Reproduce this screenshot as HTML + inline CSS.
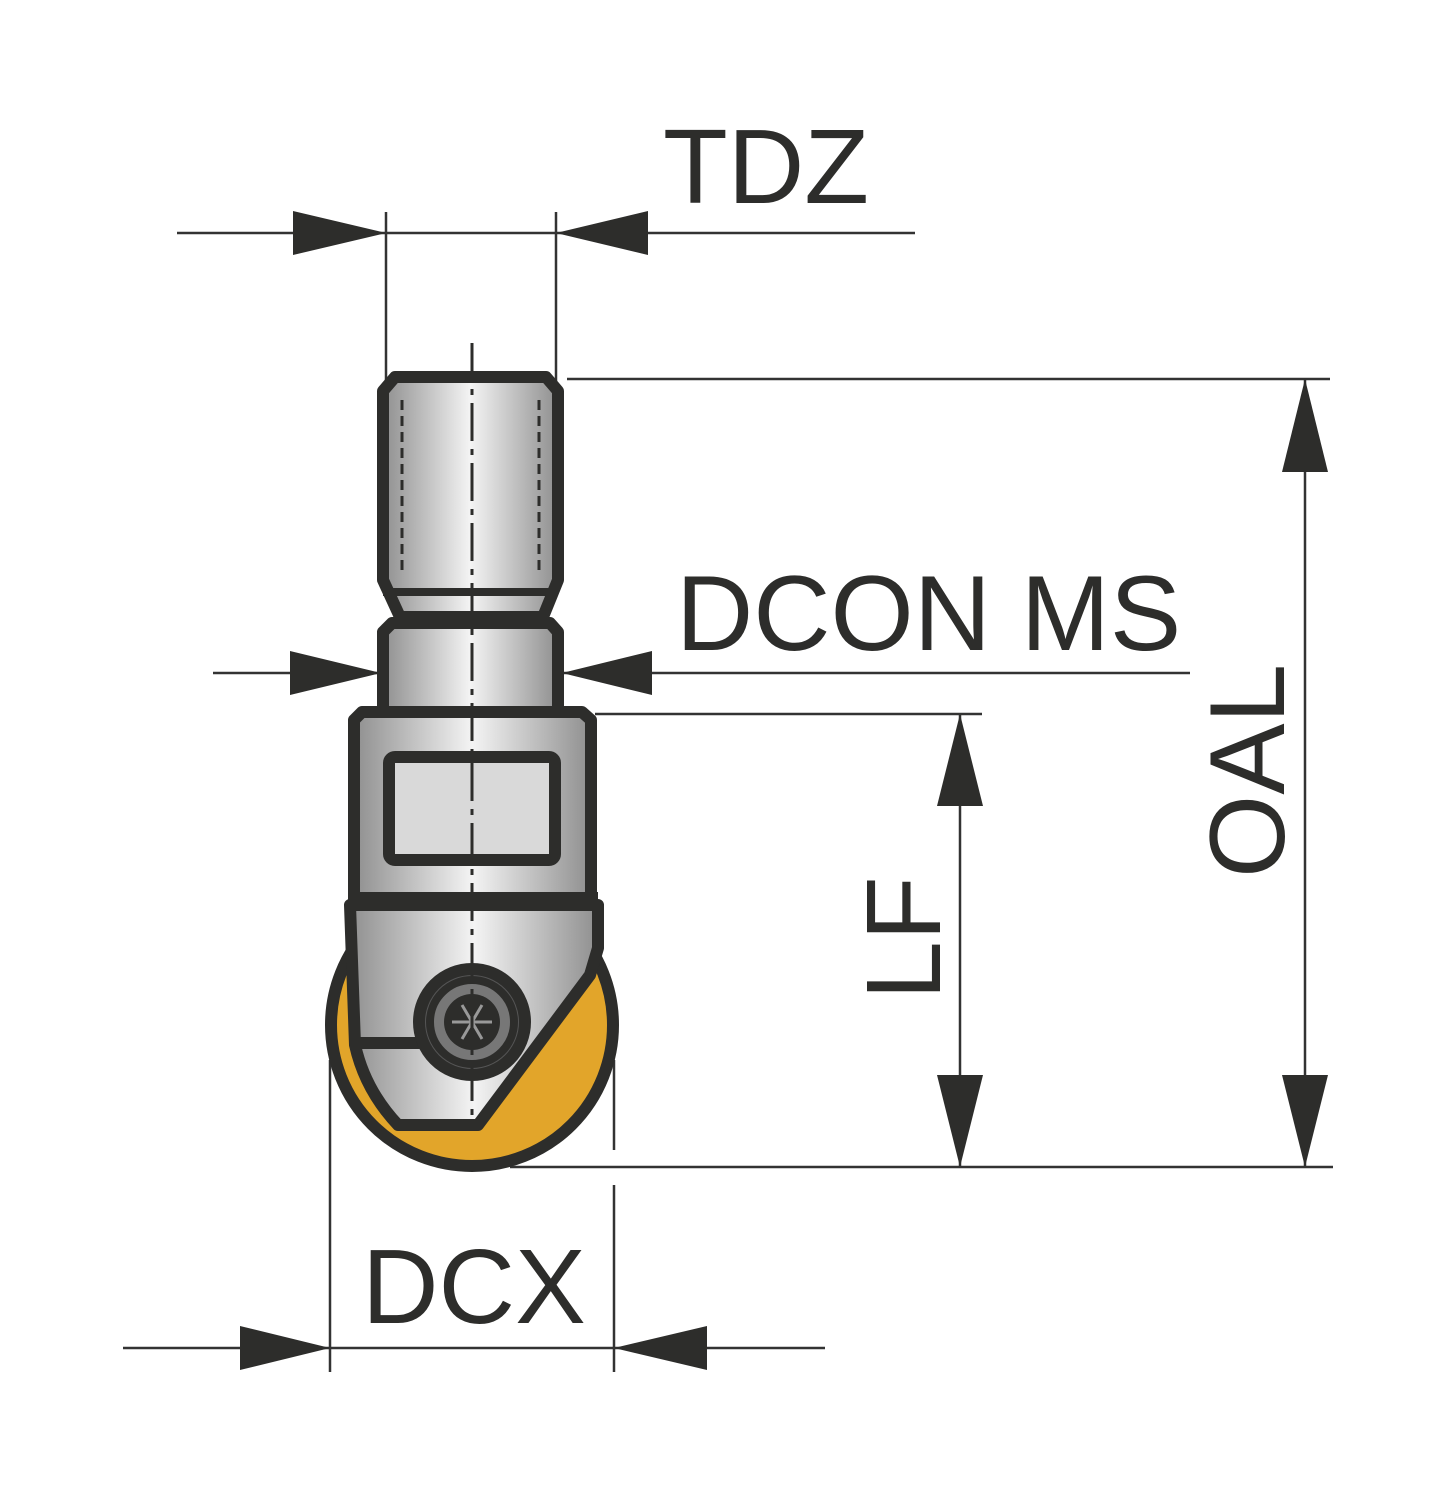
<!DOCTYPE html>
<html><head><meta charset="utf-8"><style>html,body{margin:0;padding:0;background:#fff}svg{display:block}</style></head>
<body>
<svg width="1456" height="1500" viewBox="0 0 1456 1500" xmlns="http://www.w3.org/2000/svg">
<defs>
<linearGradient id="m" x1="0" x2="1" y1="0" y2="0">
<stop offset="0" stop-color="#8f8f8f"/><stop offset="0.5" stop-color="#f4f4f4"/><stop offset="1" stop-color="#8f8f8f"/>
</linearGradient>
</defs>
<g fill="#2d2d2b" font-family="Liberation Sans, sans-serif">
<text x="663" y="203" font-size="106">TDZ</text>
<text x="676" y="650" font-size="107">DCON MS</text>
<text x="362" y="1323" font-size="106">DCX</text>
<text transform="translate(1284,878) rotate(-90)" font-size="107">OAL</text>
<text transform="translate(940,1000) rotate(-90)" font-size="106">LF</text>
</g>
<g stroke="#333" stroke-width="2.5" fill="none">
<line x1="177" y1="233" x2="915" y2="233"/>
<line x1="386" y1="212" x2="386" y2="390"/>
<line x1="556" y1="212" x2="556" y2="390"/>
<line x1="213" y1="673" x2="1190" y2="673"/>
<line x1="1305" y1="379" x2="1305" y2="1167"/>
<line x1="567" y1="379" x2="1330" y2="379"/>
<line x1="510" y1="1167" x2="1333" y2="1167"/>
<line x1="960" y1="714" x2="960" y2="1167"/>
<line x1="595" y1="714" x2="982" y2="714"/>
<line x1="123" y1="1348" x2="825" y2="1348"/>
<line x1="330" y1="1060" x2="330" y2="1372"/>
<line x1="614" y1="1060" x2="614" y2="1150"/>
<line x1="614" y1="1185" x2="614" y2="1372"/>
</g>
<g fill="#2d2d2b">
<polygon points="386,233 293,211 293,255"/>
<polygon points="556,233 648,211 648,255"/>
<polygon points="381,673 290,651 290,695"/>
<polygon points="562,673 652,651 652,695"/>
<polygon points="1305,379 1282,472 1328,472"/>
<polygon points="1305,1167 1282,1075 1328,1075"/>
<polygon points="960,714 937,806 983,806"/>
<polygon points="960,1167 937,1075 983,1075"/>
<polygon points="330,1348 240,1326 240,1370"/>
<polygon points="614,1348 707,1326 707,1370"/>
</g>
<g stroke="#2d2d2b" stroke-width="12" stroke-linejoin="round">
<circle cx="472" cy="1025" r="141" fill="#e2a52a"/>
<polygon points="395,377 546,377 558,391 558,580 543,617 400,617 383,580 383,391" fill="url(#m)"/>
<polygon points="392,623 550,623 558,632 558,712 383,712 383,632" fill="url(#m)"/>
<polygon points="362,712 582,712 591,720 591,900 354,900 354,720" fill="url(#m)"/>
<rect x="389" y="757" width="166" height="103" rx="6" fill="#d9d9d9"/>
<path d="M350,905 L598,905 L598,948 L590,975 L478,1125 L398,1125 Q365,1090 355,1045 Z" fill="url(#m)"/>
<line x1="355" y1="1043" x2="420" y2="1043"/>
<circle cx="472" cy="1022" r="53" fill="#555"/>
</g>
<line x1="383" y1="592" x2="558" y2="592" stroke="#2d2d2b" stroke-width="8"/>
<line x1="354" y1="900" x2="598" y2="900" stroke="#2d2d2b" stroke-width="16"/>
<circle cx="472" cy="1022" r="42" fill="#777" stroke="#2d2d2b" stroke-width="8"/>
<circle cx="472" cy="1022" r="28" fill="#2d2d2b"/>
<g stroke="#999" stroke-width="3"><line x1="452" y1="1022" x2="492" y2="1022"/><line x1="462" y1="1005" x2="482" y2="1039"/><line x1="482" y1="1005" x2="462" y2="1039"/></g>
<g stroke="#2d2d2b" stroke-width="3" stroke-dasharray="10,6">
<line x1="402" y1="400" x2="402" y2="572"/>
<line x1="539" y1="400" x2="539" y2="572"/>
</g>
<line x1="472" y1="343" x2="472" y2="1130" stroke="#2d2d2b" stroke-width="3" stroke-dasharray="38,8,6,8"/>
</svg>
</body></html>
